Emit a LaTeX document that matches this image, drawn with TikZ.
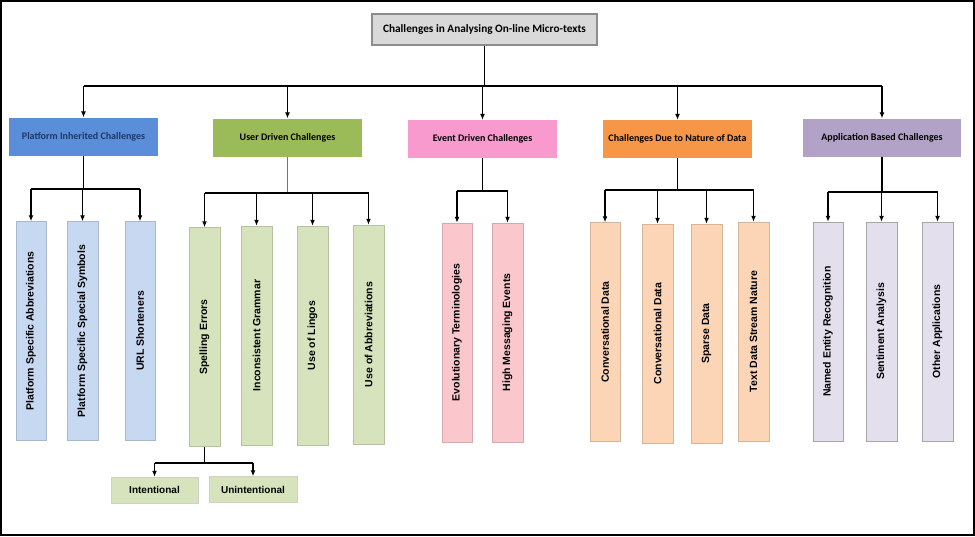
\documentclass[tikz,border=0pt]{standalone}
\usepackage{fontspec}
\usepackage{graphicx}
\setmainfont{Liberation Sans}
\newfontfamily\calib{Carlito}
\usetikzlibrary{arrows.meta}
\definecolor{rootfill}{HTML}{D9D9D9}
\definecolor{rootdraw}{HTML}{8C8C8C}
\definecolor{cblue}{HTML}{5A8ED8}
\definecolor{cgreen}{HTML}{9BBB59}
\definecolor{cpink}{HTML}{F99ACF}
\definecolor{corange}{HTML}{F79646}
\definecolor{cpurple}{HTML}{B3A2C7}
\definecolor{lblue}{HTML}{C6D9F1}
\definecolor{lgreen}{HTML}{D6E3BC}
\definecolor{lpink}{HTML}{F9C7CC}
\definecolor{lorange}{HTML}{FBD5B5}
\definecolor{lpurple}{HTML}{E4DFEC}
\definecolor{navytext}{HTML}{1F3864}
\begin{document}
\begin{tikzpicture}[x=1pt,y=-1pt,
  line/.style={draw=black, line width=1.3pt},
  arr/.style={line, -{Latex[length=6pt,width=5pt]}},
  rootbox/.style={fill=rootfill, draw=rootdraw, line width=1.2pt, minimum width=225pt, minimum height=31pt, inner sep=0pt, font=\calib\bfseries\fontsize{11.3}{13}\selectfont},
  catbox/.style={minimum width=149pt, minimum height=38pt, inner sep=0pt, font=\calib\bfseries\fontsize{10}{12}\selectfont},
  leaf/.style={minimum width=30.5pt, minimum height=219pt, inner sep=0pt, line width=0.5pt, font=\bfseries\fontsize{10.5}{12}\selectfont},
  subleaf/.style={minimum width=87pt, minimum height=26pt, inner sep=0pt, fill=lgreen, draw=lgreen!80!black!60, line width=0.5pt, font=\bfseries\fontsize{10}{12}\selectfont},
  bleaf/.style={leaf, fill=lblue, draw=lblue!85!black},
  gleaf/.style={leaf, fill=lgreen, draw=lgreen!85!black},
  pleaf/.style={leaf, fill=lpink, draw=lpink!85!black},
  oleaf/.style={leaf, fill=lorange, draw=lorange!85!black},
  vleaf/.style={leaf, fill=lpurple, draw=black!35},
]
\useasboundingbox (0,0) rectangle (975,536);
\draw[line width=2pt] (1,1) rectangle (974,535);

% root
\node[rootbox] (root) at (484.5,29.5) {Challenges in Analysing On-line Micro-texts};

% categories
\node[catbox, fill=cblue, text=navytext] (plat) at (83.5,136.5) {Platform Inherited Challenges};
\node[catbox, fill=cgreen] (user) at (287.5,137.5) {User Driven Challenges};
\node[catbox, fill=cpink] (event) at (482.5,139) {Event Driven Challenges};
\node[catbox, fill=corange] (data) at (677.5,139) {Challenges Due to Nature of Data};
\node[catbox, fill=cpurple, minimum width=158pt] (app) at (882,137.5) {Application Based Challenges};

% leaves
\node[bleaf] (pa) at (31,331) {\rotatebox{90}{Platform Specific Abbreviations}};
\node[bleaf] (ps) at (82.5,331) {\rotatebox{90}{Platform Specific Special Symbols}};
\node[bleaf] (url) at (140,331) {\rotatebox{90}{URL Shorteners}};
\node[gleaf] (se) at (204.5,337) {\rotatebox{90}{Spelling Errors}};
\node[gleaf] (ig) at (256.5,335.5) {\rotatebox{90}{Inconsistent Grammar}};
\node[gleaf] (ul) at (312.5,335.5) {\rotatebox{90}{Use of Lingos}};
\node[gleaf] (ua) at (368.5,334.5) {\rotatebox{90}{Use of Abbreviations}};
\node[pleaf] (et) at (457,332.5) {\rotatebox{90}{Evolutionary Terminologies}};
\node[pleaf] (hm) at (507.5,332.5) {\rotatebox{90}{High Messaging Events}};
\node[oleaf] (cd) at (605,332) {\rotatebox{90}{Conversational Data}};
\node[oleaf] (cdb) at (657.5,333.5) {\rotatebox{90}{Conversational Data}};
\node[oleaf] (sd) at (706.5,333.5) {\rotatebox{90}{Sparse Data}};
\node[oleaf] (td) at (753.5,331.5) {\rotatebox{90}{Text Data Stream Nature}};
\node[vleaf] (ne) at (828,331.5) {\rotatebox{90}{Named Entity Recognition}};
\node[vleaf] (sa) at (881.5,331.5) {\rotatebox{90}{Sentiment Analysis}};
\node[vleaf] (oa) at (937.5,331.5) {\rotatebox{90}{Other Applications}};

% sub leaves
\node[subleaf] (int) at (154.5,490) {Intentional};
\node[subleaf, minimum width=88pt] (unint) at (253,489.5) {Unintentional};

% bus coordinates
\coordinate (bus) at (0,86);
\coordinate (pbus) at (0,189);
\coordinate (ubus) at (0,193);
\coordinate (ebus) at (0,191);
\coordinate (dbus) at (0,190);
\coordinate (abus) at (0,192);
\coordinate (sbus) at (0,463);

% root to categories
\draw[line] (root.south) -- (root.south |- bus);
\draw[line] (plat.north |- bus) -- (app.north |- bus);
\foreach \c in {plat,user,event,data,app}
  \draw[arr] (\c.north |- bus) -- (\c.north);

% platform
\draw[line] (plat.south) -- (plat.south |- pbus);
\draw[line] (pa.north |- pbus) -- (url.north |- pbus);
\foreach \n in {pa,ps,url} \draw[arr] (\n.north |- pbus) -- (\n.north);

% user
\draw[draw=black!55, line width=0.8pt] (user.south) -- (user.south |- ubus);
\draw[line] (se.north |- ubus) -- (ua.north |- ubus);
\foreach \n in {se,ig,ul,ua} \draw[arr] (\n.north |- ubus) -- (\n.north);

% event
\draw[line] (event.south) -- (event.south |- ebus);
\draw[line] (et.north |- ebus) -- (hm.north |- ebus);
\foreach \n in {et,hm} \draw[arr] (\n.north |- ebus) -- (\n.north);

% data
\draw[line] (data.south) -- (data.south |- dbus);
\draw[line] (cd.north |- dbus) -- (td.north |- dbus);
\foreach \n in {cd,cdb,sd,td} \draw[arr] (\n.north |- dbus) -- (\n.north);

% application
\draw[line] (app.south) -- (app.south |- abus);
\draw[line] (ne.north |- abus) -- (oa.north |- abus);
\foreach \n in {ne,sa,oa} \draw[arr] (\n.north |- abus) -- (\n.north);

% spelling errors
\draw[line] (se.south) -- (se.south |- sbus);
\draw[line] (int.north |- sbus) -- (unint.north |- sbus);
\foreach \n in {int,unint} \draw[arr] (\n.north |- sbus) -- (\n.north);
\end{tikzpicture}
\end{document}
